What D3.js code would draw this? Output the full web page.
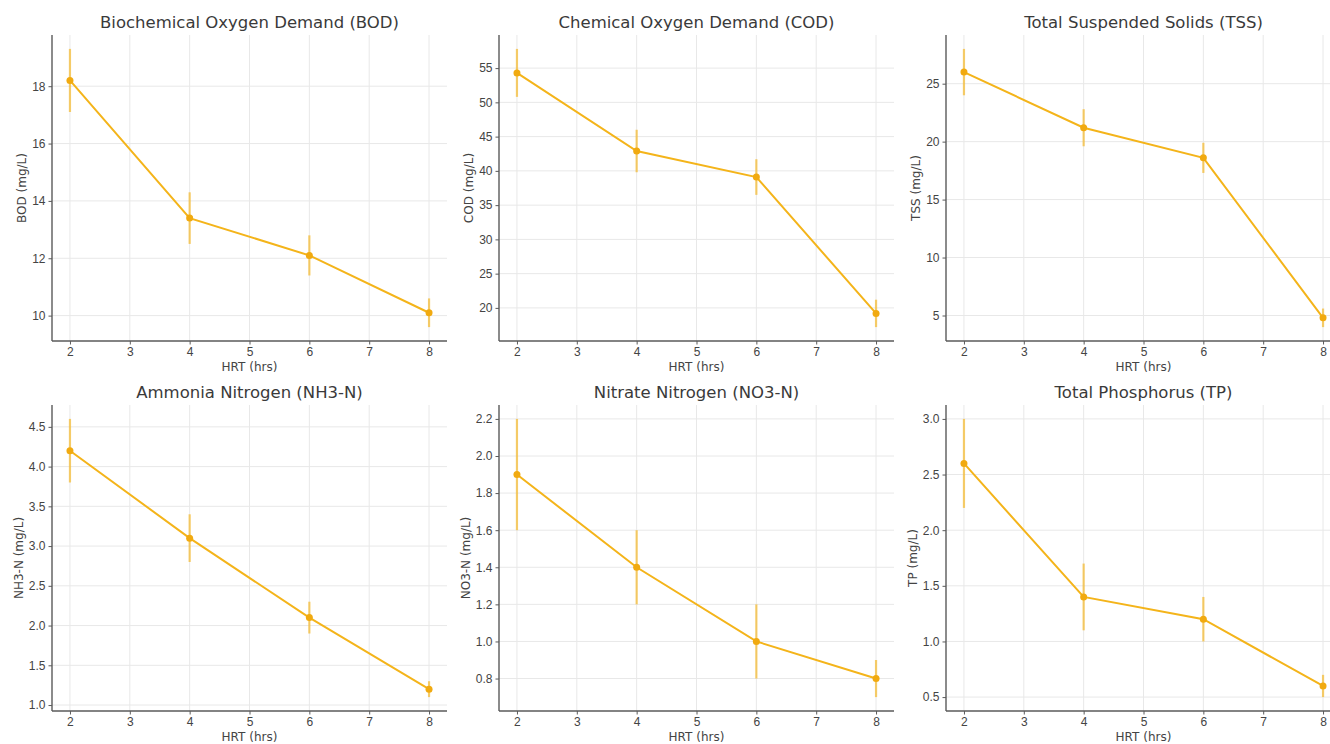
<!DOCTYPE html>
<html>
<head>
<meta charset="utf-8">
<script src="https://cdn.jsdelivr.net/npm/d3@7/dist/d3.min.js"></script>
<style>
	body { margin: 0; background: #fff; overflow: hidden; }
	svg { display: block; font-family: "DejaVu Sans", sans-serif; }
	.grid line { stroke: #e8e8e8; stroke-width: 1; }
	.axis path, .axis line { stroke: #5a5a5a; }
	.axis text { fill: #444; font-size: 12px; }
</style>
</head>
<body>
<div id="chart"></div>
<script>
// chart colours
var lineColor = "#f4b41a",
	markerColor = "#f1aa10";

// data
var hrt = [2, 4, 6, 8];
var xTicks = [2, 3, 4, 5, 6, 7, 8];

var titles = ["Biochemical Oxygen Demand (BOD)", "Chemical Oxygen Demand (COD)", "Total Suspended Solids (TSS)",
	"Ammonia Nitrogen (NH3-N)", "Nitrate Nitrogen (NO3-N)", "Total Phosphorus (TP)"];
var yLabels = ["BOD (mg/L)", "COD (mg/L)", "TSS (mg/L)", "NH3-N (mg/L)", "NO3-N (mg/L)", "TP (mg/L)"];

var bodMean = [18.2, 13.4, 12.1, 10.1];
var bodErr  = [1.1, 0.9, 0.7, 0.5];
var codMean = [54.3, 42.9, 39.1, 19.2];
var codErr  = [3.5, 3.1, 2.6, 2.0];
var tssMean = [26.0, 21.2, 18.6, 4.8];
var tssErr  = [2.0, 1.6, 1.3, 0.8];
var nh3Mean = [4.2, 3.1, 2.1, 1.2];
var nh3Err  = [0.4, 0.3, 0.2, 0.1];
var no3Mean = [1.9, 1.4, 1.0, 0.8];
var no3Err  = [0.3, 0.2, 0.2, 0.1];
var tpMean  = [2.6, 1.4, 1.2, 0.6];
var tpErr   = [0.4, 0.3, 0.2, 0.1];

var bodTicks = [10, 12, 14, 16, 18];
var codTicks = [20, 25, 30, 35, 40, 45, 50, 55];
var tssTicks = [5, 10, 15, 20, 25];
var nh3Ticks = [1.0, 1.5, 2.0, 2.5, 3.0, 3.5, 4.0, 4.5];
var no3Ticks = [0.8, 1.0, 1.2, 1.4, 1.6, 1.8, 2.0, 2.2];
var tpTicks  = [0.5, 1.0, 1.5, 2.0, 2.5, 3.0];

var means = [bodMean, codMean, tssMean, nh3Mean, no3Mean, tpMean];
var errs  = [bodErr, codErr, tssErr, nh3Err, no3Err, tpErr];
var yTicks = [bodTicks, codTicks, tssTicks, nh3Ticks, no3Ticks, tpTicks];
var yFormats = ["d", "d", "d", ".1f", ".1f", ".1f"];

// layout
var colLeft = [52, 499, 946],
	rowTop = [35, 405],
	width = 395,
	height = 306;

var svg = d3.select("#chart").append("svg")
	.attr("width", 1330)
	.attr("height", 744);

titles.forEach(function(title, i) {

	var row = Math.floor(i / 3), col = i % 3;
	var data = hrt.map(function(h, j) { return {x: h, y: means[i][j], e: errs[i][j]}; });

	var canvas = svg.append("g")
		.attr("transform", "translate(" + colLeft[col] + "," + rowTop[row] + ")");

	// scales, padded 5% like matplotlib
	var x = d3.scaleLinear().domain([1.7, 8.3]).range([0, width]);
	var lo = d3.min(data, function(d) { return d.y - d.e; }),
		hi = d3.max(data, function(d) { return d.y + d.e; }),
		pad = (hi - lo) * 0.05;
	var y = d3.scaleLinear().domain([lo - pad, hi + pad]).range([height, 0]);

	// grid
	var grid = canvas.append("g").attr("class", "grid");
	grid.selectAll(".gx").data(xTicks).enter().append("line")
		.attr("x1", function(d) { return x(d); })
		.attr("x2", function(d) { return x(d); })
		.attr("y1", 0).attr("y2", height);
	grid.selectAll(".gy").data(yTicks[i]).enter().append("line")
		.attr("x1", 0).attr("x2", width)
		.attr("y1", function(d) { return y(d); })
		.attr("y2", function(d) { return y(d); });

	// axes
	canvas.append("g")
		.attr("class", "axis")
		.attr("transform", "translate(0," + height + ")")
		.call(d3.axisBottom(x).tickValues(xTicks).tickSize(3.5).tickPadding(3).tickFormat(d3.format("d")))
		.call(function(g) { g.select(".domain").attr("d", "M0,0H" + width).attr("stroke-width", 1.4); });

	canvas.append("g")
		.attr("class", "axis")
		.call(d3.axisLeft(y).tickValues(yTicks[i]).tickSize(3.5).tickPadding(3).tickFormat(d3.format(yFormats[i])))
		.call(function(g) { g.select(".domain").attr("d", "M0,0V" + height).attr("stroke-width", 1.4); });

	// error bars
	canvas.selectAll(".err").data(data).enter().append("line")
		.attr("x1", function(d) { return x(d.x); })
		.attr("x2", function(d) { return x(d.x); })
		.attr("y1", function(d) { return y(d.y - d.e); })
		.attr("y2", function(d) { return y(d.y + d.e); })
		.attr("stroke", lineColor)
		.attr("stroke-opacity", 0.65)
		.attr("stroke-width", 2.2);

	// line
	canvas.append("path")
		.datum(data)
		.attr("fill", "none")
		.attr("stroke", lineColor)
		.attr("stroke-width", 2)
		.attr("d", d3.line().x(function(d) { return x(d.x); }).y(function(d) { return y(d.y); }));

	// markers
	canvas.selectAll(".pt").data(data).enter().append("circle")
		.attr("cx", function(d) { return x(d.x); })
		.attr("cy", function(d) { return y(d.y); })
		.attr("r", 3.5)
		.attr("fill", markerColor);

	// title
	canvas.append("text")
		.attr("x", width / 2)
		.attr("y", -7)
		.attr("text-anchor", "middle")
		.attr("font-size", "16.5px")
		.attr("fill", "#3a3a3a")
		.text(title);

	// x label
	canvas.append("text")
		.attr("x", width / 2)
		.attr("y", height + 30)
		.attr("text-anchor", "middle")
		.attr("font-size", "12px")
		.attr("fill", "#444")
		.text("HRT (hrs)");

	// y label
	var yOff = (yFormats[i] == "d") ? -26 : -29;
	canvas.append("text")
		.attr("transform", "rotate(-90)")
		.attr("x", -height / 2)
		.attr("y", yOff)
		.attr("text-anchor", "middle")
		.attr("font-size", "12px")
		.attr("fill", "#444")
		.text(yLabels[i]);
});
</script>
</body>
</html>
